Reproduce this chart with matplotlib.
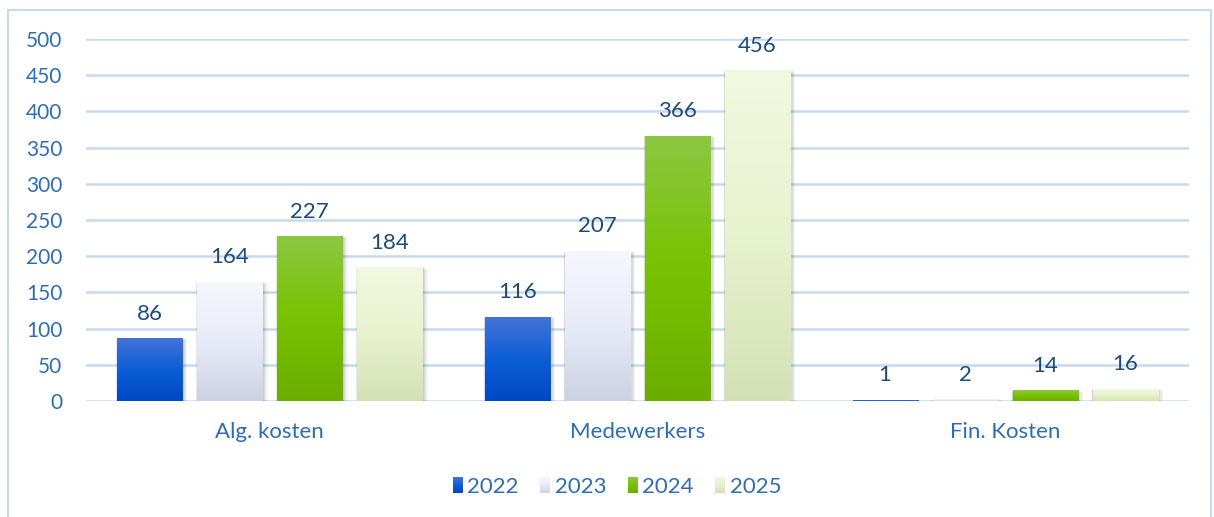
import matplotlib
matplotlib.use("Agg")
import matplotlib.pyplot as plt
import numpy as np
from matplotlib.colors import LinearSegmentedColormap
from matplotlib.patches import Rectangle
from matplotlib.legend_handler import HandlerBase
from matplotlib.image import BboxImage
from matplotlib.transforms import Bbox, TransformedBbox

plt.rcParams['font.family'] = ['Lato', 'DejaVu Sans']

categories = ["Alg. kosten", "Medewerkers", "Fin. Kosten"]
years = ["2022", "2023", "2024", "2025"]
values_2022 = [86, 116, 1]
values_2023 = [164, 207, 2]
values_2024 = [227, 366, 14]
values_2025 = [184, 456, 16]
series = [values_2022, values_2023, values_2024, values_2025]
yticks = [0, 50, 100, 150, 200, 250, 300, 350, 400, 450, 500]

gradients = [
    [(0.27, 0.45, 0.84), (0.05, 0.37, 0.84), (0.0, 0.28, 0.77)],
    [(0.965, 0.97, 0.995), (0.91, 0.92, 0.97), (0.80, 0.82, 0.89)],
    [(0.55, 0.78, 0.26), (0.47, 0.76, 0.0), (0.42, 0.68, 0.0)],
    [(0.945, 0.975, 0.875), (0.91, 0.95, 0.81), (0.83, 0.88, 0.71)],
]
cmaps = [LinearSegmentedColormap.from_list(f"g{i}", g[::-1]) for i, g in enumerate(gradients)]

tick_color = "#2E6DB4"
label_color = "#1D4A7A"
grid_color = "#C5D9F1"

fig = plt.figure(figsize=(12.14, 5.17), dpi=100)
ax = fig.add_axes([86 / 1214, 1 - 401 / 517, (1189 - 86) / 1214, (401 - 39) / 517])

# chart border
fig.patches.append(Rectangle((8 / 1214, -0.01), (1211 - 8) / 1214, (517 - 10) / 517 + 0.01,
                             transform=fig.transFigure, fill=False,
                             edgecolor=grid_color, lw=1.5, zorder=0))

x = np.arange(len(categories))
pitch = 80 / 367.5
width = 65 / 367.5
offsets = (np.arange(len(series)) - 1.5) * pitch

grad = np.linspace(0, 1, 256).reshape(-1, 1)
px_x = 1.0 / 367.5
px_y = 500 / 362
for i, vals in enumerate(series):
    bars = ax.bar(x + offsets[i], vals, width, color='none', zorder=3)
    for b, v in zip(bars, vals):
        x0 = b.get_x()
        w = b.get_width()
        h = b.get_height()
        # soft shadow
        for k, a in enumerate([0.06, 0.06, 0.05, 0.04]):
            s = (k + 1) * 1.0
            ax.add_patch(Rectangle((x0 - s * px_x * 0.3, -s * px_y * 0.8),
                                   w + s * px_x * 1.6, h + s * px_y * 0.6,
                                   facecolor='black', alpha=a, lw=0, zorder=2))
        ax.imshow(grad, cmap=cmaps[i], origin='lower', aspect='auto',
                  extent=(x0, x0 + w, 0, h), zorder=3, interpolation='bilinear')
        ax.annotate(str(v), (x0 + w / 2, h), xytext=(0, 18), textcoords='offset points',
                    ha='center', va='center', fontsize=16, color=label_color, zorder=5)

ax.set_xlim(-0.5, len(categories) - 0.5)
ax.set_ylim(0, 500)
ax.set_yticks(yticks)
ax.set_xticks(x)
ax.set_xticklabels(categories)
ax.tick_params(axis='both', length=0, labelsize=15, colors=tick_color)
ax.tick_params(axis='x', labelsize=16, pad=15)
ax.tick_params(axis='y', pad=17)
for sp in ax.spines.values():
    sp.set_visible(False)
ax.set_axisbelow(True)
ax.yaxis.grid(True, color=grid_color, lw=1.8, zorder=0)
ax.set_facecolor('none')


class GradHandler(HandlerBase):
    def __init__(self, cmap):
        super().__init__()
        self.cmap = cmap

    def create_artists(self, legend, orig_handle, xdescent, ydescent, width, height, fontsize, trans):
        bb = Bbox.from_bounds(-xdescent, -ydescent, width, height)
        tbb = TransformedBbox(bb, trans)
        img = BboxImage(tbb, cmap=self.cmap, interpolation='bilinear', origin='lower')
        img.set_data(grad)
        return [img]


handles = [Rectangle((0, 0), 1, 1) for _ in years]
fig.legend(handles, years, loc='center', bbox_to_anchor=(617 / 1214, 1 - 487 / 517),
           ncol=4, frameon=False, fontsize=16, labelcolor=tick_color,
           handlelength=0.42, handleheight=0.7, handletextpad=0.25, columnspacing=0.95,
           handler_map={h: GradHandler(c) for h, c in zip(handles, cmaps)})

fig.savefig("out.png", dpi=100)
